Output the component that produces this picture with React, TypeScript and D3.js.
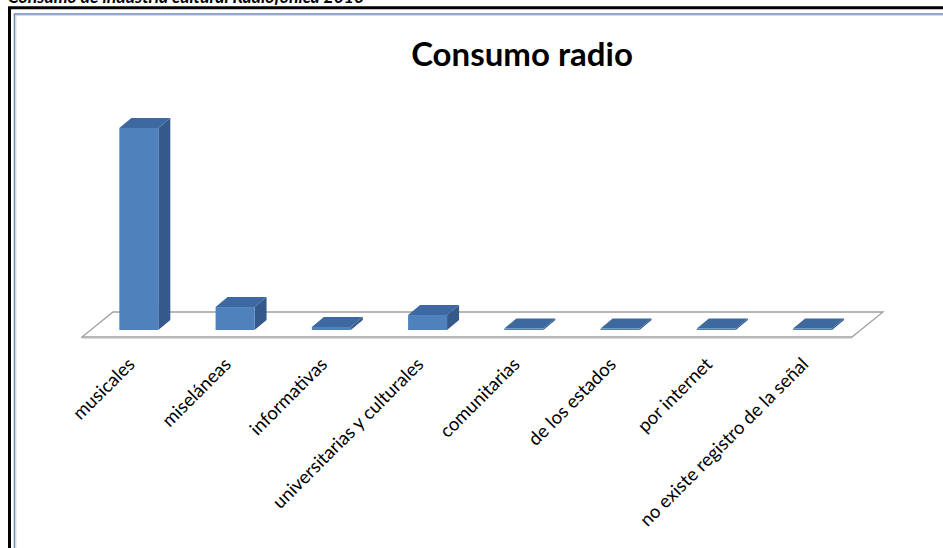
import React from "react";
import * as d3 from "d3";

const categories = [
  "musicales",
  "miseláneas",
  "informativas",
  "universitarias y culturales",
  "comunitarias",
  "de los estados",
  "por internet",
  "no existe registro de la señal",
];
const values = [81, 9.2, 1.2, 6, 0.3, 0.4, 0.3, 0.3];
const chartTitle = "Consumo radio";
const pageHeading = "Consumo de industria cultural Radiofónica 2010";

const W = 943;
const H = 548;

export default function App() {
  const floorLeft = 82;
  const floorWidth = 770;
  const floorFrontY = 337;
  const depth = { x: 31, y: -25 };
  const barOff = { x: 8.7, y: -7 };
  const barDepth = { x: 12, y: -10 };

  const x = d3
    .scaleBand<string>()
    .domain(categories)
    .range([floorLeft + barOff.x, floorLeft + barOff.x + floorWidth])
    .paddingInner(0.595)
    .paddingOuter(0.2975);
  const baseY = floorFrontY + barOff.y;
  const y = d3.scaleLinear().domain([0, 81]).range([0, 202]);

  const fl = floorLeft;
  const fr = floorLeft + floorWidth;
  const floorPts = [
    [fl, floorFrontY],
    [fr, floorFrontY],
    [fr + depth.x, floorFrontY + depth.y],
    [fl + depth.x, floorFrontY + depth.y],
  ];

  return (
    <svg
      width={W}
      height={H}
      style={{ position: "absolute", left: 0, top: 0, background: "#fff" }}
    >
      <text
        x={8}
        y={3}
        fontFamily="Lato, 'Open Sans', sans-serif"
        fontWeight="bold"
        fontStyle="italic"
        fontSize={17.5}
        fill="#000"
      >
        {pageHeading}
      </text>
      <path d={`M9.5,${H + 2} V7.8 H${W + 2}`} fill="none" stroke="#000" strokeWidth={3} />
      <path d={`M14.5,${H + 2} V14 H${W + 2}`} fill="none" stroke="#6f8fb5" strokeWidth={1.6} />
      <path d={`M16,${H + 2} V15.5 H${W + 2}`} fill="none" stroke="#c9d6e6" strokeWidth={0.8} />

      <text
        x={522}
        y={66}
        textAnchor="middle"
        fontFamily="Lato, 'Open Sans', sans-serif"
        fontWeight="bold"
        fontSize={33}
        fill="#000"
      >
        {chartTitle}
      </text>

      <polygon
        points={floorPts.map((p) => p.join(",")).join(" ")}
        fill="#fff"
        stroke="#a0a0a0"
        strokeWidth={1.3}
      />
      <line x1={fl} x2={fr} y1={floorFrontY + 1.5} y2={floorFrontY + 1.5} stroke="#dcdcdc" strokeWidth={1} />

      {categories.map((c, i) => {
        const x0 = x(c)!;
        const w = x.bandwidth();
        const h = Math.max(1.5, y(values[i]));
        const top = baseY - h;
        const x1 = x0 + w;
        const dx = barDepth.x;
        const dy = barDepth.y;
        return (
          <g key={c}>
            <polygon
              points={`${x1},${baseY} ${x1 + dx},${baseY + dy} ${x1 + dx},${top + dy} ${x1},${top}`}
              fill="#34598a"
            />
            <polygon
              points={`${x0},${top} ${x1},${top} ${x1 + dx},${top + dy} ${x0 + dx},${top + dy}`}
              fill="#3d68a0"
            />
            <rect x={x0} y={top} width={w} height={h} fill="#4f81bd" />
          </g>
        );
      })}

      {categories.map((c) => {
        const cx = x(c)! + x.bandwidth() / 2 - 3;
        const cy = 365.5;
        return (
          <text
            key={c}
            transform={`translate(${cx},${cy}) rotate(-45)`}
            textAnchor="end"
            fontFamily="Lato, 'Open Sans', sans-serif"
            fontSize={18.5}
            fill="#000"
          >
            {c}
          </text>
        );
      })}
    </svg>
  );
}
